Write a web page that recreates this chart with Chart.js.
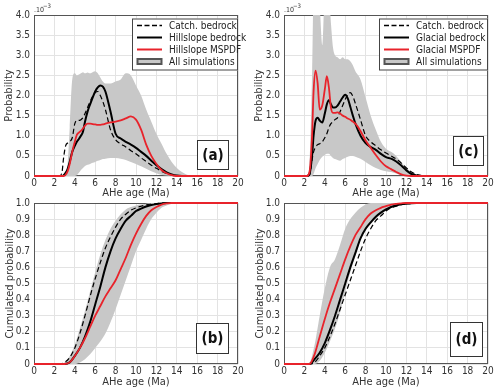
<!DOCTYPE html>
<html>
<head>
<title>AHe age distributions</title>
<script src="https://cdn.jsdelivr.net/npm/chart.js"></script>
<style>
  body { margin: 0; background: #fff; }
  #wrap { position: relative; width: 500px; height: 392px; }
  #wrap canvas { position: absolute; }
</style>
</head>
<body>
<div id="wrap">
  <canvas id="pa" width="250" height="200" style="left:0;top:0"></canvas>
  <canvas id="pc" width="250" height="200" style="left:250px;top:0"></canvas>
  <canvas id="pb" width="250" height="202" style="left:0;top:190px"></canvas>
  <canvas id="pd" width="250" height="202" style="left:250px;top:190px"></canvas>
</div>
<script>
// ages (Ma) for the probability curves (top) and the cumulated curves (bottom)
const pdfAges = [0, 2, 2.25, 2.5, 2.75, 2.9, 3.1, 3.3, 3.5, 3.75,
                 4, 4.2, 4.4, 4.6, 4.8, 5, 5.25, 5.5, 5.75, 6,
                 6.25, 6.5, 6.75, 7, 7.5, 8, 8.5, 9, 9.5, 10,
                 10.5, 11, 11.5, 12, 12.5, 13, 13.5, 14, 14.5, 15,
                 16, 20];
const cdfAges = [0, 2, 2.5, 3, 3.5, 4, 4.5, 5, 5.5, 6,
                 6.5, 7, 7.5, 8, 8.5, 9, 9.5, 10, 10.5, 11,
                 11.5, 12, 12.5, 13, 13.5, 14, 15, 20];

// (a) probability, x10^-3
const aCatch   = [0, 0, 0, 0, 0.1, 0.45, 0.75, 0.82, 0.85, 0.95,
                  1.3, 1.38, 1.38, 1.4, 1.45, 1.55, 1.7, 1.85, 1.98, 2.07,
                  2.1, 2.0, 1.85, 1.65, 1.15, 0.9, 0.8, 0.72, 0.63, 0.55,
                  0.45, 0.36, 0.27, 0.19, 0.12, 0.06, 0.02, 0, 0, 0,
                  0, 0];
const aHill    = [0, 0, 0, 0, 0, 0.02, 0.08, 0.18, 0.35, 0.6,
                  0.75, 0.85, 0.92, 1.0, 1.1, 1.35, 1.6, 1.78, 1.95, 2.1,
                  2.2, 2.25, 2.22, 2.1, 1.6, 1.05, 0.93, 0.85, 0.78, 0.7,
                  0.6, 0.5, 0.38, 0.27, 0.17, 0.09, 0.04, 0.01, 0, 0,
                  0, 0];
const aMspdf   = [0, 0, 0, 0, 0, 0, 0.03, 0.12, 0.3, 0.6,
                  0.85, 1.02, 1.08, 1.12, 1.18, 1.25, 1.3, 1.3, 1.29, 1.28,
                  1.27, 1.27, 1.28, 1.3, 1.33, 1.35, 1.38, 1.43, 1.48, 1.4,
                  1.15, 0.78, 0.5, 0.3, 0.15, 0.07, 0.02, 0, 0, 0,
                  0, 0];
const aSimHigh = [0, 0, 0, 0, 0, 0, 0, 0.3, 1.2, 2.4,
                  2.55, 2.5, 2.52, 2.55, 2.58, 2.55, 2.57, 2.55, 2.58, 2.6,
                  2.55, 2.45, 2.35, 2.3, 2.3, 2.35, 2.4, 2.55, 2.5, 2.25,
                  2.0, 1.65, 1.35, 1.05, 0.8, 0.55, 0.35, 0.2, 0.1, 0.03,
                  0, 0];
const aSimLow  = [0, 0, 0, 0, 0, 0, 0, 0, 0, 0,
                  0, 0.02, 0.08, 0.15, 0.2, 0.25, 0.28, 0.3, 0.33, 0.35,
                  0.38, 0.4, 0.42, 0.43, 0.45, 0.45, 0.43, 0.4, 0.35, 0.3,
                  0.24, 0.18, 0.12, 0.07, 0.03, 0.01, 0, 0, 0, 0,
                  0, 0];

// (c) probability, x10^-3
const cCatch   = [0, 0, 0, 0.02, 0.4, 0.6, 0.72, 0.78, 0.8, 0.85,
                  0.95, 1.05, 1.2, 1.3, 1.35, 1.4, 1.45, 1.6, 1.75, 1.9,
                  2.03, 2.07, 1.98, 1.8, 1.4, 1.0, 0.85, 0.75, 0.65, 0.57,
                  0.5, 0.42, 0.32, 0.2, 0.1, 0.04, 0.01, 0, 0, 0,
                  0, 0];
const cGlacial = [0, 0, 0, 0.05, 0.5, 1.0, 1.38, 1.45, 1.38, 1.33,
                  1.55, 1.78, 1.88, 1.78, 1.7, 1.7, 1.75, 1.85, 1.95, 2.02,
                  1.93, 1.72, 1.5, 1.3, 1.0, 0.82, 0.72, 0.65, 0.55, 0.47,
                  0.43, 0.36, 0.26, 0.14, 0.05, 0.01, 0, 0, 0, 0,
                  0, 0];
const cMspdf   = [0, 0, 0, 0.1, 1.0, 2.1, 2.62, 2.3, 1.65, 1.75,
                  2.15, 2.48, 2.2, 1.7, 1.57, 1.57, 1.58, 1.55, 1.5, 1.47,
                  1.43, 1.4, 1.35, 1.3, 1.12, 0.88, 0.7, 0.52, 0.36, 0.24,
                  0.17, 0.1, 0.04, 0.01, 0, 0, 0, 0, 0, 0,
                  0, 0];
const cSimHigh = [0, 0, 0, 0.3, 2.5, 4.5, 4.5, 4.5, 4.2, 3.25,
                  4.5, 4.5, 4.5, 3.8, 3.2, 3.0, 2.95, 2.9, 2.95, 2.9,
                  2.9, 2.85, 2.75, 2.6, 2.4, 1.95, 1.5, 1.15, 0.85, 0.68,
                  0.6, 0.5, 0.35, 0.2, 0.1, 0.04, 0.01, 0, 0, 0,
                  0, 0];
const cSimLow  = [0, 0, 0, 0, 0, 0.05, 0.2, 0.3, 0.4, 0.48,
                  0.52, 0.55, 0.55, 0.5, 0.45, 0.42, 0.4, 0.38, 0.42, 0.45,
                  0.48, 0.5, 0.5, 0.48, 0.43, 0.35, 0.27, 0.2, 0.15, 0.12,
                  0.1, 0.06, 0.03, 0.01, 0, 0, 0, 0, 0, 0,
                  0, 0];

// (b) cumulated probability
const bCatch   = [0, 0, 0, 0.01, 0.04, 0.1, 0.19, 0.3, 0.42, 0.53,
                  0.63, 0.72, 0.79, 0.85, 0.9, 0.93, 0.955, 0.97, 0.98, 0.988,
                  0.993, 0.997, 0.999, 1, 1, 1, 1, 1];
const bHill    = [0, 0, 0, 0, 0.01, 0.05, 0.1, 0.17, 0.26, 0.37,
                  0.48, 0.6, 0.7, 0.78, 0.84, 0.89, 0.92, 0.95, 0.965, 0.978,
                  0.987, 0.993, 0.997, 1, 1, 1, 1, 1];
const bMspdf   = [0, 0, 0, 0, 0.01, 0.05, 0.1, 0.16, 0.23, 0.3,
                  0.36, 0.42, 0.47, 0.52, 0.59, 0.66, 0.74, 0.81, 0.87, 0.92,
                  0.955, 0.975, 0.99, 0.997, 1, 1, 1, 1];
const bSimHigh = [0, 0, 0, 0.01, 0.05, 0.12, 0.22, 0.33, 0.45, 0.57,
                  0.68, 0.77, 0.84, 0.89, 0.93, 0.96, 0.975, 0.985, 0.99, 0.995,
                  1, 1, 1, 1, 1, 1, 1, 1];
const bSimLow  = [0, 0, 0, 0, 0, 0, 0.01, 0.03, 0.06, 0.1,
                  0.14, 0.19, 0.26, 0.34, 0.43, 0.52, 0.61, 0.7, 0.77, 0.84,
                  0.9, 0.94, 0.97, 0.985, 0.995, 1, 1, 1];

// (d) cumulated probability
const dCatch   = [0, 0, 0, 0.01, 0.05, 0.1, 0.17, 0.25, 0.34, 0.43,
                  0.52, 0.61, 0.7, 0.78, 0.84, 0.89, 0.92, 0.95, 0.97, 0.98,
                  0.99, 0.995, 0.998, 1, 1, 1, 1, 1];
const dGlacial = [0, 0, 0, 0.03, 0.07, 0.13, 0.21, 0.3, 0.4, 0.5,
                  0.6, 0.69, 0.78, 0.84, 0.88, 0.915, 0.94, 0.96, 0.975, 0.985,
                  0.992, 0.996, 0.999, 1, 1, 1, 1, 1];
const dMspdf   = [0, 0, 0, 0.06, 0.17, 0.28, 0.38, 0.47, 0.56, 0.65,
                  0.73, 0.8, 0.85, 0.9, 0.935, 0.955, 0.97, 0.98, 0.99, 0.995,
                  0.998, 1, 1, 1, 1, 1, 1, 1];
const dSimHigh = [0, 0, 0.01, 0.12, 0.3, 0.47, 0.6, 0.65, 0.74, 0.84,
                  0.9, 0.94, 0.97, 0.99, 1, 1, 1, 1, 1, 1,
                  1, 1, 1, 1, 1, 1, 1, 1];
const dSimLow  = [0, 0, 0, 0, 0.02, 0.07, 0.14, 0.22, 0.32, 0.45,
                  0.57, 0.67, 0.77, 0.83, 0.87, 0.9, 0.93, 0.95, 0.97, 0.98,
                  0.99, 1, 1, 1, 1, 1, 1, 1];

const legendA = ['Catch. bedrock', 'Hillslope bedrock', 'Hillslope MSPDF', 'All simulations'];
const legendC = ['Catch. bedrock', 'Glacial bedrock', 'Glacial MSPDF', 'All simulations'];

const FONT = "'Liberation Sans Narrow', 'Arial Narrow', 'DejaVu Sans Condensed', 'Liberation Sans', Arial, sans-serif";
Chart.defaults.font.family = FONT;
Chart.defaults.color = '#333';

const RED = '#e8232b';
const GREY = '#c8c8c8';

function xy(ages, vals) {
  return ages.map((a, i) => ({ x: a, y: vals[i] }));
}

// frame, legend, panel letter and exponent label
const decor = {
  id: 'decor',
  beforeDatasetsDraw(chart, args, o) {
    const { ctx, chartArea: a } = chart;
    ctx.save();
    ctx.strokeStyle = '#555';
    ctx.lineWidth = 1;
    ctx.strokeRect(a.left + 0.5, a.top + 0.5, a.right - a.left - 1, a.bottom - a.top - 1);
    ctx.restore();
  },
  afterDatasetsDraw(chart, args, o) {
    const { ctx, chartArea: a } = chart;
    ctx.save();
    if (o.exp) {
      ctx.fillStyle = '#333';
      ctx.textBaseline = 'alphabetic';
      ctx.textAlign = 'left';
      ctx.font = '7px ' + FONT;
      ctx.fillText('.10', a.left, a.top - 3);
      ctx.font = '6px ' + FONT;
      ctx.fillText('\u22123', a.left + 9, a.top - 7);
    }
    if (o.legend) {
      const lw = o.legendWidth, lx = a.right - lw, ly = a.top + 3.5, lh = 52;
      ctx.fillStyle = '#fff';
      ctx.fillRect(lx, ly, lw, lh);
      ctx.strokeStyle = '#444';
      ctx.lineWidth = 1;
      ctx.strokeRect(lx + 0.5, ly + 0.5, lw - 1, lh - 1);
      o.legend.forEach((txt, i) => {
        const y = ly + 7 + i * 12;
        const x0 = lx + 5, x1 = lx + 30;
        ctx.setLineDash([]);
        if (i === 3) {
          ctx.fillStyle = GREY;
          ctx.fillRect(x0, y - 2.5, x1 - x0, 5);
          ctx.strokeStyle = '#555';
          ctx.strokeRect(x0 + 0.5, y - 2.5, x1 - x0 - 1, 5);
        } else {
          ctx.beginPath();
          ctx.moveTo(x0, y);
          ctx.lineTo(x1, y);
          ctx.strokeStyle = i === 2 ? RED : '#000';
          ctx.lineWidth = i === 0 ? 1.3 : 2;
          if (i === 0) ctx.setLineDash([5, 2.5]);
          ctx.stroke();
          ctx.setLineDash([]);
        }
        ctx.fillStyle = '#222';
        ctx.font = '10px ' + FONT;
        ctx.textAlign = 'left';
        ctx.textBaseline = 'middle';
        ctx.fillText(txt, lx + 37, y + 0.5);
      });
    }
    const b = o.box;
    ctx.fillStyle = '#fff';
    ctx.fillRect(a.right - b.r, a.bottom - b.b, b.w, b.h);
    ctx.strokeStyle = '#333';
    ctx.lineWidth = 1;
    ctx.strokeRect(a.right - b.r + 0.5, a.bottom - b.b + 0.5, b.w - 1, b.h - 1);
    ctx.fillStyle = '#111';
    ctx.font = 'bold 15px ' + FONT;
    ctx.textAlign = 'center';
    ctx.textBaseline = 'middle';
    ctx.fillText(o.tag, a.right - b.r + b.w / 2, a.bottom - b.b + b.h / 2 + 1);
    ctx.restore();
  }
};

function makePanel(id, p) {
  new Chart(document.getElementById(id), {
    type: 'line',
    data: {
      datasets: [
        { data: xy(p.ages, p.simLow), borderWidth: 0, borderColor: 'rgba(0,0,0,0)', fill: false, order: 4 },
        { data: xy(p.ages, p.simHigh), borderWidth: 0, borderColor: 'rgba(0,0,0,0)', fill: '-1', backgroundColor: GREY, order: 3 },
        { data: xy(p.ages, p.catchment), borderColor: '#000', borderWidth: 1.2, borderDash: [5, 3], order: 2, clip: 3 },
        { data: xy(p.ages, p.bedrock), borderColor: '#000', borderWidth: 2, order: 1, clip: 3 },
        { data: xy(p.ages, p.mspdf), borderColor: RED, borderWidth: 1.8, order: 0, clip: 3 }
      ]
    },
    options: {
      responsive: false,
      animation: false,
      events: [],
      layout: { padding: { left: 0, right: 12, top: p.padTop, bottom: 0 } },
      elements: { point: { radius: 0 }, line: { cubicInterpolationMode: 'monotone', fill: false } },
      plugins: {
        legend: { display: false },
        tooltip: { enabled: false },
        decor: { exp: p.exp, legend: p.legend, legendWidth: p.legendWidth, tag: p.tag, box: p.box }
      },
      scales: {
        x: {
          type: 'linear', min: 0, max: 20,
          ticks: { stepSize: 2, padding: 1, maxRotation: 0, font: { size: 10 }, color: '#333' },
          grid: { color: '#e3e3e3', drawTicks: false },
          border: { display: false },
          title: { display: true, text: 'AHe age (Ma)', color: '#333', font: { size: 11 }, padding: { top: 0, bottom: p.xTitlePad } },
          afterFit: s => { s.height = p.xHeight; }
        },
        y: {
          min: 0, max: p.yMax,
          ticks: { stepSize: p.yStep, padding: 4, font: { size: 10 }, color: '#333',
                   callback: v => v === 0 ? '0' : v.toFixed(1) },
          grid: { color: '#e3e3e3', drawTicks: false },
          border: { display: false },
          title: { display: true, text: p.yTitle, color: '#333', font: { size: 11 }, padding: { top: p.yTitlePad, bottom: p.yTitlePad } },
          afterFit: s => { s.width = 34; }
        }
      }
    },
    plugins: [decor]
  });
}

makePanel('pa', {
  ages: pdfAges, catchment: aCatch, bedrock: aHill, mspdf: aMspdf, simHigh: aSimHigh, simLow: aSimLow,
  yMax: 4, yStep: 0.5, yTitle: 'Probability', exp: true, legend: legendA, legendWidth: 106, tag: '(a)',
  padTop: 15, xHeight: 24, xTitlePad: 0, yTitlePad: 3, box: { r: 41, b: 36, w: 32, h: 30 }
});
makePanel('pc', {
  ages: pdfAges, catchment: cCatch, bedrock: cGlacial, mspdf: cMspdf, simHigh: cSimHigh, simLow: cSimLow,
  yMax: 4, yStep: 0.5, yTitle: 'Probability', exp: true, legend: legendC, legendWidth: 109, tag: '(c)',
  padTop: 15, xHeight: 24, xTitlePad: 0, yTitlePad: 3, box: { r: 35, b: 40, w: 31, h: 30 }
});
makePanel('pb', {
  ages: cdfAges, catchment: bCatch, bedrock: bHill, mspdf: bMspdf, simHigh: bSimHigh, simLow: bSimLow,
  yMax: 1, yStep: 0.1, yTitle: 'Cumulated probability', exp: false, legend: null, tag: '(b)',
  padTop: 13, xHeight: 28, xTitlePad: 3, yTitlePad: 4, box: { r: 42, b: 41, w: 33, h: 31 }
});
makePanel('pd', {
  ages: cdfAges, catchment: dCatch, bedrock: dGlacial, mspdf: dMspdf, simHigh: dSimHigh, simLow: dSimLow,
  yMax: 1, yStep: 0.1, yTitle: 'Cumulated probability', exp: false, legend: null, tag: '(d)',
  padTop: 13, xHeight: 28, xTitlePad: 3, yTitlePad: 4, box: { r: 38, b: 42, w: 33, h: 35 }
});
</script>
</body>
</html>
